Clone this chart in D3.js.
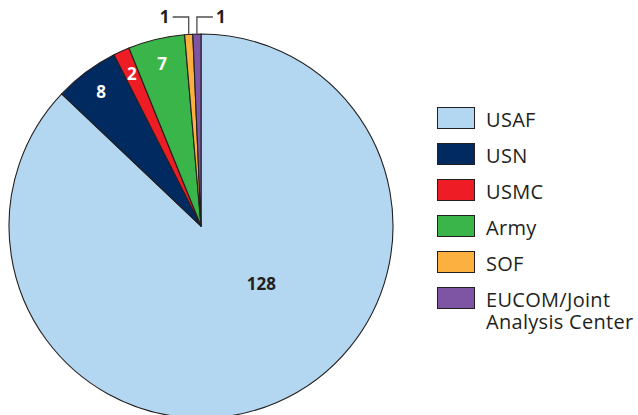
<!DOCTYPE html>
<html>
<head>
<meta charset="utf-8">
<script src="https://cdn.jsdelivr.net/npm/d3@7"></script>
<style>
  body { margin: 0; background: #fff; }
  svg { display: block; font-family: "Open Sans", "Noto Sans", sans-serif; }
</style>
</head>
<body>
<svg id="chart" width="638" height="415"></svg>
<script>
var categories = ["USAF", "USN", "USMC", "Army", "SOF", "EUCOM/Joint Analysis Center"];
var values = [128, 8, 2, 7, 1, 1];
var colors = ["#b3d7f0", "#002a60", "#ee1c25", "#39b54a", "#fbb040", "#7e55a4"];
var legendLines = [["USAF"], ["USN"], ["USMC"], ["Army"], ["SOF"], ["EUCOM/Joint", "Analysis Center"]];

var cx = 201, cy = 226, radius = 192;

var svg = d3.select("#chart");

var data = categories.map(function(c, i) {
    return {name: c, value: values[i], color: colors[i], legend: legendLines[i]};
});

var pie = d3.pie().sort(null).value(function(d) { return d.value; });
var arcs = pie(data);

var arc = d3.arc().innerRadius(0).outerRadius(radius);

var g = svg.append("g").attr("transform", "translate(" + cx + "," + cy + ")");

g.selectAll("path.slice")
    .data(arcs)
    .enter().append("path")
    .attr("class", "slice")
    .attr("d", arc)
    .attr("fill", function(d) { return d.data.color; })
    .attr("stroke", "#231f20")
    .attr("stroke-width", 1.1)
    .attr("stroke-linejoin", "round");

// inside labels for the mid-sized slices
var labelArc = d3.arc().innerRadius(167).outerRadius(167);
g.selectAll("text.inlabel")
    .data(arcs.filter(function(d) { return d.data.value > 1 && d.data.value < 100; }))
    .enter().append("text")
    .attr("class", "inlabel")
    .attr("transform", function(d) { return "translate(" + labelArc.centroid(d) + ")"; })
    .attr("text-anchor", "middle")
    .attr("dy", "0.36em")
    .attr("fill", "#fff")
    .attr("font-weight", "bold")
    .attr("font-size", 17)
    .text(function(d) { return d.data.value; });

// big slice label, placed lower right
var big = arcs[0];
var bigAngle = 134 * Math.PI / 180, bigR = 84;
g.append("text")
    .attr("x", bigR * Math.sin(bigAngle))
    .attr("y", -bigR * Math.cos(bigAngle))
    .attr("text-anchor", "middle")
    .attr("dy", "0.36em")
    .attr("fill", "#231f20")
    .attr("font-weight", "bold")
    .attr("font-size", 17)
    .text(big.data.value);

// leader labels for the tiny slices
var small = arcs.filter(function(d) { return d.data.value === 1; });
var elbowY = -209;
small.forEach(function(d, i) {
    var mid = (d.startAngle + d.endAngle) / 2;
    var x0 = radius * Math.sin(mid), y0 = -radius * Math.cos(mid);
    var dir = i === 0 ? -1 : 1;
    var x1 = x0 + dir * 16;
    g.append("path")
        .attr("d", "M" + x0 + "," + y0 + "V" + elbowY + "H" + x1)
        .attr("fill", "none")
        .attr("stroke", "#4d4d4f")
        .attr("stroke-width", 1.3);
    g.append("text")
        .attr("x", x1 + dir * 8)
        .attr("y", elbowY)
        .attr("dy", "0.36em")
        .attr("text-anchor", "middle")
        .attr("fill", "#231f20")
        .attr("font-weight", "bold")
        .attr("font-size", 17)
        .text(d.data.value);
});

// legend
var legend = svg.append("g").attr("transform", "translate(437,107)");
var item = legend.selectAll("g.item")
    .data(data)
    .enter().append("g")
    .attr("class", "item")
    .attr("transform", function(d, i) { return "translate(0," + i * 36 + ")"; });

item.append("rect")
    .attr("x", 0.5)
    .attr("y", 0.5)
    .attr("width", 37)
    .attr("height", 21)
    .attr("fill", function(d) { return d.color; })
    .attr("stroke", "#231f20")
    .attr("stroke-width", 1);

item.append("text")
    .attr("x", 49)
    .attr("y", 20)
    .attr("fill", "#231f20")
    .attr("font-size", 20)
    .attr("letter-spacing", 0.3)
    .selectAll("tspan")
    .data(function(d) { return d.legend; })
    .enter().append("tspan")
    .attr("x", 49)
    .attr("dy", function(d, i) { return i === 0 ? 0 : 22; })
    .text(function(d) { return d; });
</script>
</body>
</html>
